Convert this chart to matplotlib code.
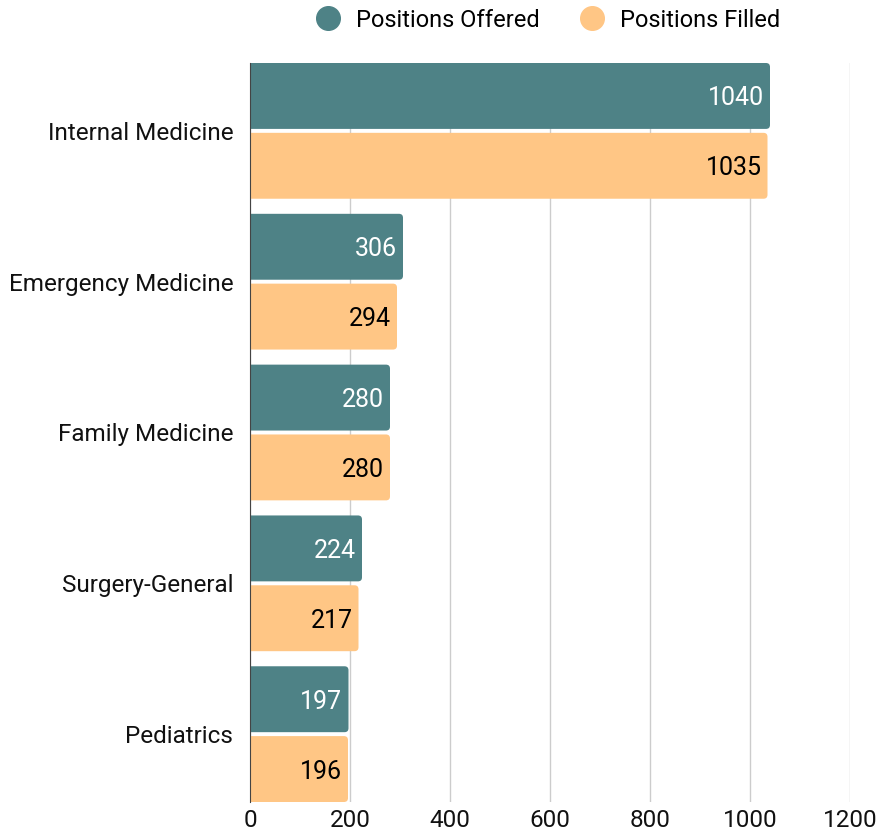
import numpy as np
import matplotlib
matplotlib.use("Agg")
import matplotlib.pyplot as plt
from matplotlib.patches import FancyBboxPatch
from matplotlib.lines import Line2D

plt.rcParams["font.family"] = ["Roboto", "DejaVu Sans"]

specialties = ["Internal Medicine", "Emergency Medicine", "Family Medicine",
               "Surgery-General", "Pediatrics"]
offered = [1040, 306, 280, 224, 197]
filled = [1035, 294, 280, 217, 196]
series_names = ["Positions Offered", "Positions Filled"]
colors = ["#4e8286", "#ffc685"]
label_colors = ["white", "black"]
xticks = [0, 200, 400, 600, 800, 1000, 1200]

fig = plt.figure(figsize=(8.8, 8.35), dpi=100)
ax = fig.add_axes([250 / 880, 1 - 802 / 835, 600 / 880, 739 / 835])

y = np.arange(len(specialties))
h = 0.437
gap = 0.026
offsets = [-(h + gap) / 2, (h + gap) / 2]

# px per data unit, for undistorted rounded corners
x_per_px = 1200 / 600
y_per_px = 4.9 / 739

for vals, off, col, lc in zip([offered, filled], offsets, colors, label_colors):
    bars = ax.barh(y + off, vals, height=h, color=col)
    for b, v in zip(bars, vals):
        x0, y0, w, hh = b.get_x(), b.get_y(), b.get_width(), b.get_height()
        b.remove()
        r = 4 * x_per_px
        p = FancyBboxPatch((x0 - 20, y0), w + 20, hh,
                           boxstyle=f"round,pad=0,rounding_size={r}",
                           mutation_aspect=y_per_px / x_per_px,
                           facecolor=col, edgecolor="none", zorder=2)
        ax.add_patch(p)
        ax.text(v - 6 * x_per_px, y0 + hh / 2, str(v), ha="right",
                va="center_baseline", color=lc, fontsize=18, zorder=3)

ax.set_xlim(0, 1200)
ax.set_ylim(len(specialties) - 1 + h + gap / 2, -(h + gap / 2))
ax.set_xticks(xticks)
ax.set_yticks(y)
ax.set_yticklabels(specialties)
ax.tick_params(length=0, labelsize=17.5, colors="#111111")
ax.tick_params(axis="y", pad=12)
ax.tick_params(axis="x", pad=5)
ax.grid(axis="x", color="#cccccc", linewidth=1)
ax.set_axisbelow(True)
for s in ["top", "right", "bottom"]:
    ax.spines[s].set_visible(False)
ax.spines["left"].set_color("#444444")
ax.spines["left"].set_zorder(4)

handles = [Line2D([], [], marker="o", linestyle="none", markersize=17,
                  markerfacecolor=c, markeredgecolor=c) for c in colors]
fig.legend(handles, series_names, loc="center", bbox_to_anchor=(0.616, 0.976),
           ncol=2, frameon=False, fontsize=17, handletextpad=0.2,
           columnspacing=1.2)

fig.savefig("out.png", dpi=100)
